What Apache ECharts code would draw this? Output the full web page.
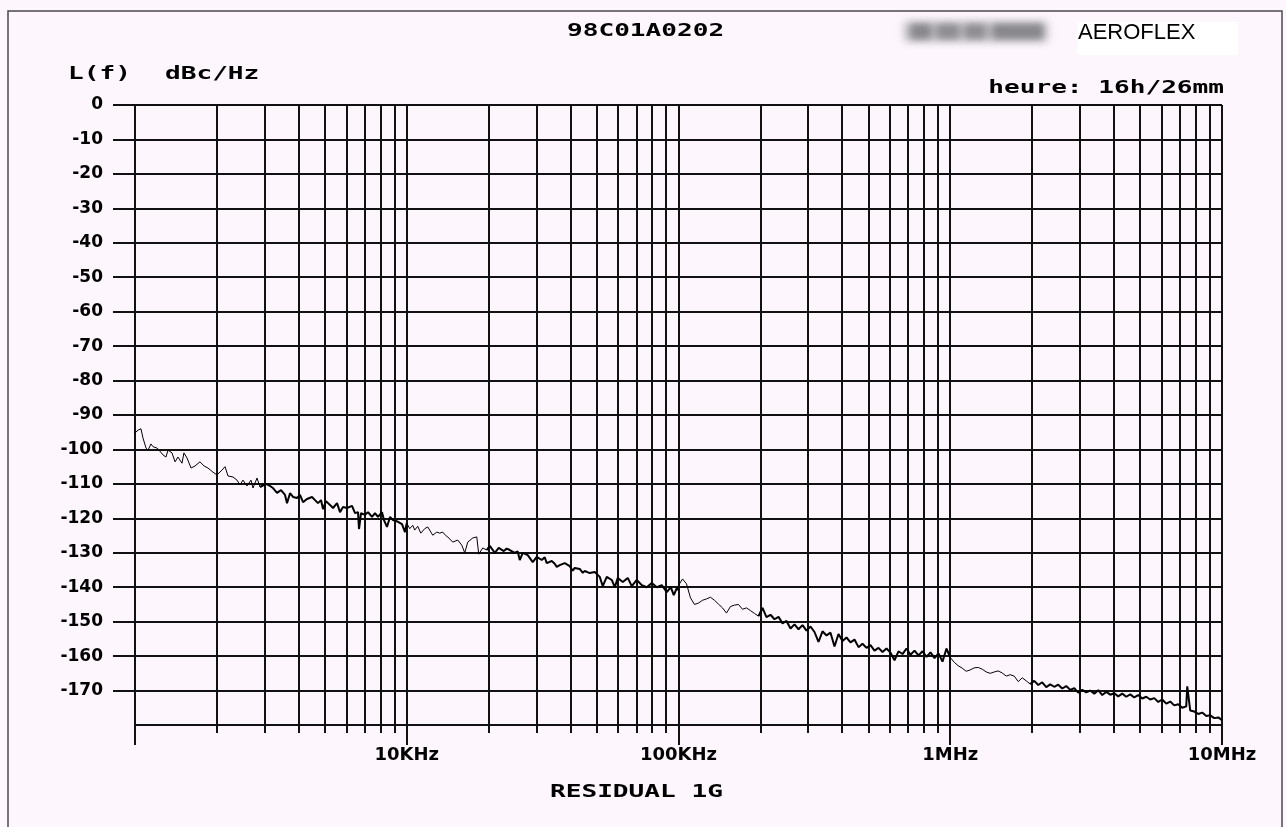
<!DOCTYPE html>
<html>
<head>
<meta charset="utf-8">
<script src="https://cdn.jsdelivr.net/npm/echarts@6/dist/echarts.min.js"></script>
<style>
html,body{margin:0;padding:0;background:#fdf6fc;}
#chart{width:1286px;height:827px;}
</style>
</head>
<body>
<div id="chart"></div>
<script>
// ---- axis definitions ----
const xMin = 1000;
const xMax = 10000000;
const gridFreqs = [1000,2000,3000,4000,5000,6000,7000,8000,9000,
  10000,20000,30000,40000,50000,60000,70000,80000,90000,
  100000,200000,300000,400000,500000,600000,700000,800000,900000,
  1000000,2000000,3000000,4000000,5000000,6000000,7000000,8000000,9000000,10000000];
const decadeFreqs = [1000,10000,100000,1000000,10000000];
const xLabelFreqs = [10000,100000,1000000,10000000];
const xLabelTexts = ['10KHz','100KHz','1MHz','10MHz'];
const yMin = -180, yMax = 0, yStep = 10;
const yLabelValues = [0,-10,-20,-30,-40,-50,-60,-70,-80,-90,-100,-110,-120,-130,-140,-150,-160,-170];

// ---- trace: [frequency Hz, L(f) dBc/Hz] ----
const decade1 = [[1000,-95.2],[1026,-94.4],[1052,-94.0],[1070,-96.7],[1098,-99.6],[1117,-100.2],[1145,-98.4],[1165,-99.2],[1205,-99.6],[1226,-100.2],[1268,-101.6],[1300,-102.2],[1323,-100.2],[1368,-101.0],[1404,-103.6],[1439,-102.2],[1489,-104.0],[1514,-101.0],[1554,-102.5],[1608,-105.4],[1663,-104.8],[1734,-103.6],[1795,-104.8],[1856,-105.4],[1937,-106.6],[2003,-107.4],[2090,-106.0],[2144,-105.0],[2199,-107.7],[2294,-108.0],[2373,-108.9],[2434,-110.3],[2497,-108.9],[2583,-110.6],[2672,-108.9],[2718,-111.2],[2812,-108.3],[2884,-110.9],[3034,-110.0],[3139,-110.6],[3220,-111.2],[3331,-112.6],[3446,-111.8],[3565,-113.2],[3626,-115.6],[3719,-112.7],[3815,-113.8],[3947,-114.1],[4048,-113.2],[4152,-115.3],[4295,-114.4],[4481,-113.8],[4597,-114.7],[4715,-115.6],[4836,-114.7],[4919,-117.3],[5045,-115.0],[5219,-116.1],[5354,-117.0],[5539,-115.6],[5681,-118.2],[5827,-116.7],[6028,-117.0],[6289,-116.4],[6451,-118.5],[6617,-118.2],[6673,-123.1],[6787,-118.5],[7021,-119.0],[7201,-118.2],[7449,-119.6],[7641,-118.5],[7837,-119.6],[8108,-118.2],[8246,-120.5],[8458,-122.5],[8676,-119.6],[8899,-120.5],[9288,-121.0],[9606,-121.7],[9853,-124.0],[10000,-121.4]];

const decade2 = [[10257,-123.0],[10521,-122.0],[10701,-123.4],[10977,-122.3],[11259,-124.3],[11648,-123.0],[11948,-122.5],[12152,-122.8],[12466,-124.9],[12893,-124.0],[13225,-124.3],[13565,-124.0],[13914,-125.0],[14152,-125.4],[14765,-126.9],[15403,-126.3],[15938,-127.8],[16348,-130.0],[16768,-126.9],[17495,-125.7],[18098,-125.4],[18407,-130.4],[19042,-128.6],[19698,-129.2],[20205,-128.0],[20550,-128.3],[21080,-130.0],[21807,-128.6],[22751,-129.5],[23337,-128.8],[23937,-129.2],[24972,-130.0],[25614,-129.6],[26052,-132.1],[26722,-130.0],[27878,-130.7],[29085,-132.7],[30087,-131.2],[31389,-132.1],[32197,-131.3],[32747,-133.0],[34165,-132.4],[35044,-133.2],[35643,-134.1],[36561,-133.6],[38144,-133.0],[39794,-133.9],[40819,-135.2],[41517,-134.4],[43315,-134.7],[44430,-135.8],[45190,-135.3],[47147,-135.9],[49188,-135.6],[51317,-137.0],[52638,-139.7],[54452,-137.0],[56810,-137.9],[58272,-140.0],[59772,-137.3],[62360,-138.5],[65060,-137.3],[67302,-139.7],[70216,-137.9],[73256,-139.4],[76428,-140.0],[79737,-138.8],[83189,-140.0],[86787,-139.4],[90545,-141.4],[93669,-140.0],[96075,-142.3],[98530,-140.3],[100000,-140.8]];

const decade3 = [[103450,-137.6],[107010,-139.0],[110700,-143.1],[114520,-145.0],[118460,-144.6],[122550,-143.8],[126770,-143.4],[131140,-142.9],[135660,-143.8],[140340,-144.9],[145180,-146.0],[150180,-147.5],[155360,-145.6],[160710,-145.2],[166250,-145.0],[171980,-146.4],[177910,-146.0],[184050,-146.8],[190390,-147.6],[196960,-148.4],[203750,-146.0],[210770,-148.7],[218040,-148.0],[225550,-149.3],[233330,-148.6],[241380,-150.5],[249700,-149.8],[258310,-152.0],[267210,-150.8],[276420,-152.2],[285960,-151.0],[295810,-152.6],[306010,-151.4],[316550,-153.0],[327470,-155.9],[338760,-152.8],[350440,-154.0],[362520,-153.2],[375010,-157.2],[387940,-153.6],[401320,-155.6],[415150,-154.6],[429470,-156.0],[444270,-155.2],[459590,-157.4],[475440,-156.4],[491830,-157.6],[508780,-156.8],[526320,-158.4],[544460,-157.6],[563230,-158.8],[582650,-157.8],[602740,-159.0],[623510,-161.2],[645010,-158.6],[667250,-159.4],[690250,-157.8],[714050,-159.6],[738660,-158.4],[764130,-159.8],[790470,-158.6],[817720,-160.2],[845910,-158.9],[875070,-160.6],[905240,-159.2],[936450,-161.6],[968730,-157.8],[1000000,-160.4]];

const decade4 = [[1034500,-161.8],[1070100,-162.8],[1107000,-163.5],[1145200,-164.4],[1184600,-164.0],[1225500,-163.4],[1267700,-163.3],[1311400,-163.8],[1356600,-164.6],[1403400,-165.0],[1451800,-164.6],[1501800,-164.3],[1553600,-164.9],[1607100,-165.8],[1662500,-165.4],[1719800,-165.8],[1779100,-167.4],[1840500,-166.3],[1903900,-167.2],[1969600,-168.1],[2037500,-167.2],[2107700,-168.4],[2180400,-167.6],[2255500,-169.0],[2333300,-168.2],[2413800,-168.9],[2497000,-168.3],[2583100,-169.4],[2672100,-168.7],[2764200,-169.8],[2859600,-169.3],[2958100,-170.6],[3060100,-169.8],[3165500,-170.5],[3274700,-170.0],[3387600,-170.9],[3504400,-169.9],[3625200,-171.3],[3750100,-170.4],[3879400,-171.2],[4013200,-170.8],[4151500,-171.7],[4294700,-170.9],[4442700,-171.8],[4595900,-171.1],[4754400,-172.0],[4918300,-171.3],[5087800,-172.3],[5263200,-171.8],[5444600,-172.6],[5632300,-172.2],[5826500,-173.3],[6027400,-172.6],[6235100,-173.8],[6450100,-173.2],[6672500,-174.3],[6902500,-174.0],[7140500,-175.0],[7386600,-174.6],[7450000,-168.8],[7641300,-175.8],[7904700,-176.1],[8177200,-176.8],[8459100,-176.4],[8750700,-177.4],[9052400,-177.2],[9364500,-178.0],[9687300,-177.8],[10000000,-178.6]];

// measurement segments (sparse / dense sweep parts of each decade)
const segmentEdges = [1000,3000,10000,20000,100000,200000,1000000,2000000,10000000];
const segmentDense = [false,true,false,true,false,true,false,true];

// ---- texts ----
const refText = '98C01A0202';
const brandText = 'AEROFLEX';
const timeText = 'heure: 16h/26mm';
const yNameText = 'L(f)';
const yUnitText = 'dBc/Hz';
const captionText = 'RESIDUAL 1G';

const INK = '#111';
const MONO = 'bold 18px "DejaVu Sans Mono"';

const chart = echarts.init(document.getElementById('chart'), null, {renderer:'canvas'});
const trace = decade1.concat(decade2, decade3, decade4);

const traceSeries = [];
for (let s = 0; s < segmentDense.length; s++) {
  const lo = segmentEdges[s], hi = segmentEdges[s + 1];
  let first = trace.findIndex(p => p[0] >= lo);
  if (first > 0) first -= 1;
  let last = first;
  while (last + 1 < trace.length && trace[last + 1][0] <= hi) last++;
  if (last + 1 < trace.length && trace[last][0] < hi) last++;
  traceSeries.push({
    type:'line', xAxisIndex:0, data:trace.slice(first, last + 1),
    showSymbol:false, symbol:'none', sampling:false, smooth:false, clip:true,
    lineStyle:{color:'#000', width: segmentDense[s] ? 2 : 1}, z:5, silent:true
  });
}

function hdr(text, x, y, align, font, sx) {
  return {type:'text', x:x, y:y, scaleX:sx, scaleY:1, z:10,
    style:{text:text, font:font, fill:'#000', textAlign:align, textVerticalAlign:'middle', align:align, verticalAlign:'middle'}};
}
// obscured (blurred) date stamp: only the soft shadow of an off-screen shape is visible
function smudge(x, y, w, h, blur, color) {
  return {type:'rect', shape:{x:x - 3000, y:y, width:w, height:h},
    style:{fill:color, shadowBlur:blur, shadowColor:color, shadowOffsetX:3000, shadowOffsetY:0}, z:3, silent:true};
}

chart.setOption({
  backgroundColor:'#fdf6fc',
  animation:false,
  grid:{left:135, right:64, top:105, bottom:102, containLabel:false},
  xAxis:[{
    type:'log', logBase:10, min:xMin, max:xMax, position:'bottom',
    axisLine:{show:true, onZero:false, lineStyle:{color:INK, width:2}},
    axisTick:{show:true, customValues:gridFreqs, length:8, inside:false, lineStyle:{color:INK, width:2}},
    axisLabel:{show:false},
    splitLine:{show:true, lineStyle:{color:INK, width:2}},
    minorTick:{show:false}, minorSplitLine:{show:false}
  },{
    type:'log', logBase:10, min:xMin, max:xMax, position:'bottom',
    axisLine:{show:false, onZero:false},
    axisTick:{show:true, customValues:decadeFreqs, length:20, lineStyle:{color:INK, width:2}},
    axisLabel:{show:true, customValues:xLabelFreqs, margin:21, color:'#000',
      fontFamily:'DejaVu Sans', fontWeight:'bold', fontSize:18,
      formatter:function(v){ const i = xLabelFreqs.indexOf(Math.round(v)); return i >= 0 ? xLabelTexts[i] : ''; }},
    splitLine:{show:false}
  }],
  yAxis:{
    type:'value', min:yMin, max:yMax, interval:yStep,
    axisLine:{show:true, onZero:false, lineStyle:{color:INK, width:2}},
    axisTick:{show:true, customValues:yLabelValues, length:22, lineStyle:{color:INK, width:2}},
    axisLabel:{show:true, customValues:yLabelValues, margin:32, color:'#000',
      fontFamily:'DejaVu Sans', fontWeight:'bold', fontSize:17,
      formatter:function(v){ return v <= yMin ? '' : String(v); }},
    splitLine:{show:true, lineStyle:{color:INK, width:2}}
  },
  series:traceSeries,
  graphic:[
    {type:'rect', shape:{x:8, y:11, width:1274, height:840}, style:{fill:'none', stroke:'#4a4a4a', lineWidth:1.5}, z:1, silent:true},
    {type:'rect', shape:{x:1077, y:22, width:161, height:33}, style:{fill:'#ffffff'}, z:2, silent:true},
    smudge(905, 22, 142, 19, 8, 'rgba(165,165,170,0.95)'),
    smudge(912, 24, 18, 15, 6, 'rgba(105,105,110,0.75)'),
    smudge(938, 24, 20, 15, 6, 'rgba(110,110,115,0.7)'),
    smudge(966, 24, 18, 15, 6, 'rgba(110,110,115,0.7)'),
    smudge(994, 24, 48, 15, 6, 'rgba(105,105,110,0.75)'),
    hdr(refText, 567, 31, 'left', MONO, 1.45),
    hdr(brandText, 1078, 33, 'left', '22px "Liberation Sans"', 1),
    hdr(timeText, 1224, 88, 'right', MONO, 1.45),
    hdr(yNameText, 68, 74, 'left', MONO, 1.45),
    hdr(yUnitText, 165, 74, 'left', MONO, 1.45),
    hdr(captionText, 550, 792, 'left', MONO, 1.45)
  ]
});
</script>
</body>
</html>
